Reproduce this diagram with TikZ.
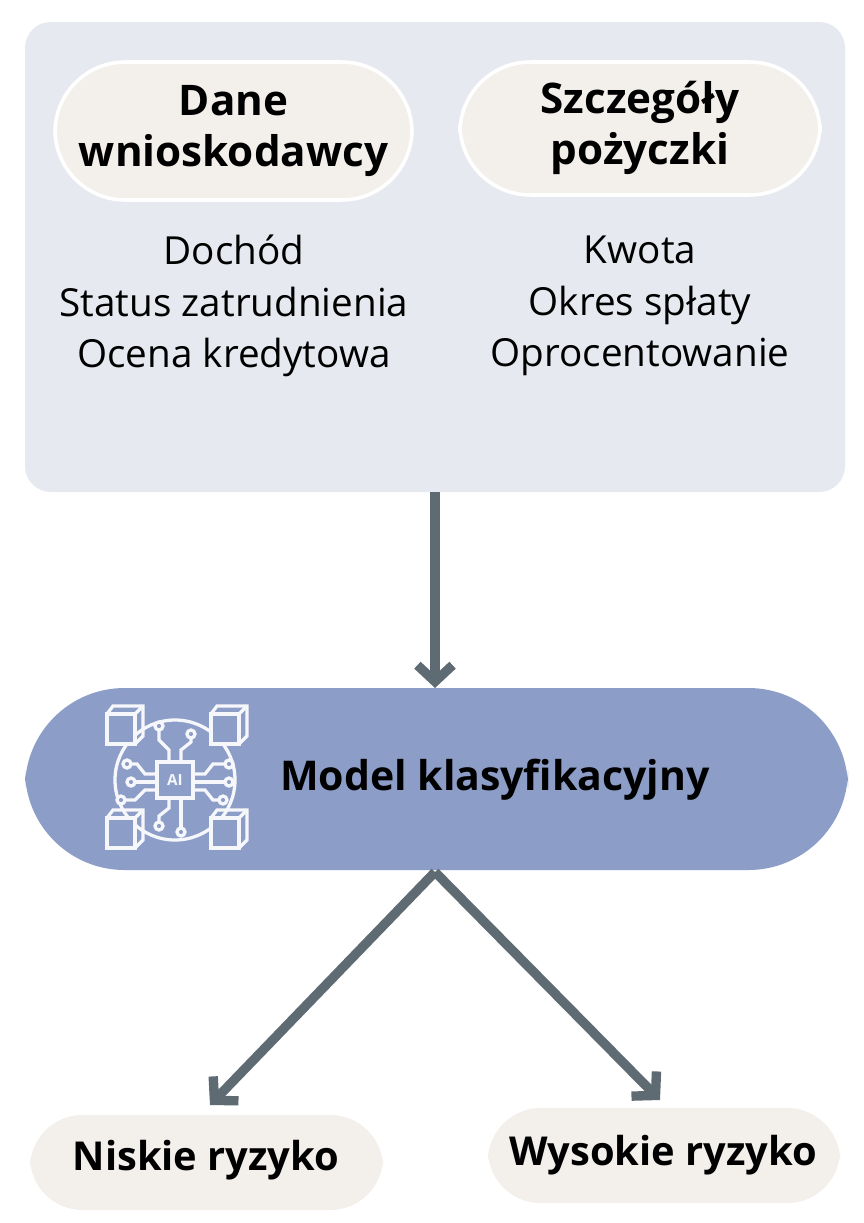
\documentclass[tikz,border=0pt]{standalone}
\usepackage{fontspec}
\setmainfont{Open Sans}
\usetikzlibrary{arrows.meta}
\definecolor{panel}{HTML}{E6E9EF}
\definecolor{pill}{HTML}{F3F0EC}
\definecolor{model}{HTML}{8C9DC8}
\definecolor{arr}{HTML}{5F6B73}
\begin{document}
\begin{tikzpicture}[x=0.03cm,y=-0.03cm,
 pillbox/.style={fill=pill,draw=white,line width=3pt,rounded corners=60},
 head/.style={font=\fontsize{36}{44}\selectfont\bfseries,align=center},
 body/.style={font=\fontsize{33}{44}\selectfont,align=center},
 conn/.style={draw=arr,line width=8pt,-{Straight Barb[length=14pt,width=30pt,line width=8pt]}},
 ic/.style={draw=white!92!model,line width=2.8pt}]
\useasboundingbox (0,0) rectangle (864,1223);
\fill[white] (0,0) rectangle (864,1223);
\fill[panel,rounded corners=22] (25,22) rectangle (845,492);
\draw[pillbox] (55,62) rectangle (412,200);
\node[head] (dane) at (233.5,131) {Dane\\wnioskodawcy};
\draw[pillbox] (460,62) rectangle (820,195);
\node[head] (szcz) at (640,128) {Szczegóły\\pożyczki};
\node[body] (l1) at (234,306) {Dochód\\Status zatrudnienia\\Ocena kredytowa};
\node[body] (l2) at (640,306) {Kwota\\Okres spłaty\\Oprocentowanie};
\coordinate (top) at (435,492);
\fill[model,rounded corners=85] (25,688) rectangle (848,870);
\node[font=\fontsize{35}{40}\selectfont\bfseries] (model) at (495,780) {Model klasyfikacyjny};
\coordinate (mt) at (435,688);
\coordinate (mb) at (435,872);
\draw[conn] (top) -- (mt);
% icon
\begin{scope}[shift={(175,780)}]
 \draw[ic] (0,0) circle (60);
 \draw[ic,fill=model] (-18,-18) rectangle (18,18);
 \node[text=white!92!model,font=\fontsize{13}{14}\selectfont\bfseries] at (0,0) {AI};
 \foreach \sx/\sy in {-1/-1,1/-1,-1/1,1/1}{
  \draw[ic,fill=model] (\sx*52-16,\sy*52-14) rectangle (\sx*52+12,\sy*52+16);
  \draw[ic] (\sx*52-16,\sy*52-14) -- (\sx*52-10,\sy*52-22) -- (\sx*52+20,\sy*52-22) -- (\sx*52+20,\sy*52+8) -- (\sx*52+12,\sy*52+16);
  \draw[ic] (\sx*52+12,\sy*52-14) -- (\sx*52+20,\sy*52-22);
 }
 \draw[ic] (-6,-18) -- (-6,-30) -- (-16,-40) -- (-16,-50); \draw[ic,fill=model] (-16,-54) circle (4);
 \draw[ic] (6,-18) -- (6,-30) -- (16,-38) -- (16,-42); \draw[ic,fill=model] (16,-46) circle (4);
 \draw[ic] (-6,18) -- (-6,28) -- (-16,36) -- (-16,42); \draw[ic,fill=model] (-16,46) circle (4);
 \draw[ic] (6,18) -- (6,48); \draw[ic,fill=model] (6,52) circle (4);
 \draw[ic] (-18,-6) -- (-30,-6) -- (-38,-16) -- (-44,-16); \draw[ic,fill=model] (-48,-16) circle (4);
 \draw[ic] (-18,2) -- (-40,2); \draw[ic,fill=model] (-44,2) circle (4);
 \draw[ic] (-18,10) -- (-30,10) -- (-40,20) -- (-50,20); \draw[ic,fill=model] (-54,20) circle (4);
 \draw[ic] (18,-6) -- (30,-6) -- (38,-16) -- (50,-16); \draw[ic,fill=model] (54,-16) circle (4);
 \draw[ic] (18,2) -- (50,2); \draw[ic,fill=model] (54,2) circle (4);
 \draw[ic] (18,10) -- (30,10) -- (38,20) -- (44,20); \draw[ic,fill=model] (48,20) circle (4);
\end{scope}
\fill[pill,rounded corners=45] (30,1115) rectangle (383,1210);
\node[font=\fontsize{34}{40}\selectfont\bfseries] (low) at (206,1160) {Niskie ryzyko};
\fill[pill,rounded corners=45] (488,1108) rectangle (840,1203);
\node[font=\fontsize{34}{40}\selectfont\bfseries] (high) at (663,1155) {Wysokie ryzyko};
\coordinate (la) at (210,1105);
\coordinate (ha) at (660,1100);
\draw[conn] (mb) -- (la);
\draw[conn] (mb) -- (ha);
\end{tikzpicture}
\end{document}
